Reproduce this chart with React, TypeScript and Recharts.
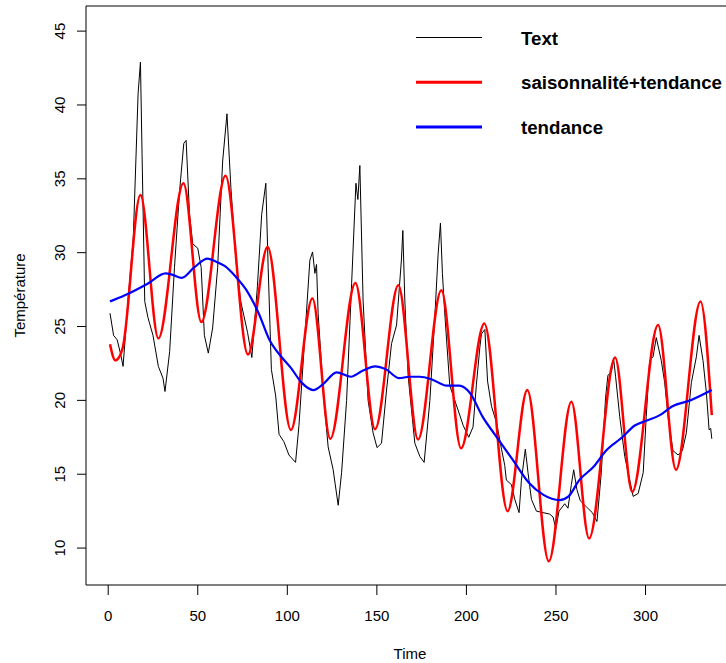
import { LineChart, Line, XAxis, YAxis, ReferenceArea } from 'recharts';

// observed series (black), sampled at its visible turning points
const blackT = [
  1, 3, 5, 7, 8.3, 11, 14, 16.7, 18, 18.9,
  20.4, 22.2, 25, 28, 30.6, 31.7, 34.3, 37, 39.8, 42.2,
  43.5, 45.4, 47.2, 50, 51.9, 53.7, 55.9, 58.3, 61.1, 63.9,
  66.3, 68.5, 71.3, 74, 77.8, 80.2, 83.3, 85.7, 88, 89.3,
  91.1, 93.5, 95.4, 98.1, 100.9, 104.6, 106.5, 109.9, 112.6, 114.1,
  115.4, 116.3, 117.2, 120.1, 122.8, 125.6, 128.4, 130.3, 133.1, 135.9,
  138.3, 139.4, 140.5, 142.3, 145.1, 147.9, 150.1, 152.6, 155.4, 158.2,
  161, 163.7, 164.5, 165.6, 167.5, 171.2, 174, 176.4, 179.6, 182.3,
  184.2, 185.5, 186.6, 187.9, 190.7, 193.5, 196.3, 198.2, 201.3, 203.7,
  205.6, 207.5, 208.4, 210.3, 211.8, 214, 216.8, 219.6, 221.4, 222.3,
  225.1, 227, 229.4, 230.7, 232.9, 234.4, 236.3, 239.1, 242.8, 246.5,
  248.4, 249.9, 251.7, 254.9, 256.7, 258.6, 259.9, 261.7, 263.6, 266.9,
  270.3, 272.9, 275.3, 277.7, 279, 280.9, 282.2, 283.3, 285.6, 288.4,
  291.2, 293.1, 295.9, 298.7, 300.4, 302.3, 304.2, 306, 308.8, 310.7,
  312.6, 315.3, 318.2, 320.6, 322.8, 325.6, 328.4, 329.9, 332.1, 334,
  335.5, 336.4, 337,
];
const blackV = [
  25.9, 24.4, 24.1, 23.1, 22.3, 26.7, 31.0, 40.8, 42.9, 36.7,
  26.7, 25.6, 24.4, 22.3, 21.5, 20.6, 23.3, 29.0, 34.1, 37.4,
  37.6, 32.6, 30.6, 30.3, 29.0, 24.4, 23.2, 24.9, 29.0, 36.2,
  39.4, 34.4, 29.5, 26.7, 24.6, 22.9, 27.7, 32.6, 34.7, 29.0,
  22.1, 20.3, 17.7, 17.2, 16.3, 15.8, 18.3, 24.5, 29.5, 30.05,
  28.6, 29.2, 25.9, 20.5, 16.85, 15.3, 12.9, 15.1, 20.0, 27.9,
  34.7, 33.6, 35.9, 26.8, 20.0, 17.8, 16.8, 17.1, 20.7, 23.85,
  25.1, 29.5, 31.5, 26.8, 21.6, 17.1, 16.2, 15.8, 20.0, 25.5,
  29.9, 32.0, 28.6, 25.9, 21.0, 20.0, 19.0, 18.3, 17.5, 18.2,
  21.1, 23.6, 24.5, 24.8, 21.3, 19.6, 18.5, 16.7, 15.6, 14.6,
  14.3, 13.3, 12.4, 14.6, 16.7, 15.1, 13.3, 12.5, 12.4, 12.3,
  12.1, 11.3, 12.5, 13.0, 12.7, 14.3, 15.3, 13.95, 13.2, 12.8,
  12.4, 11.8, 15.1, 20.2, 21.7, 21.9, 22.8, 21.6, 18.9, 16.2,
  14.6, 13.5, 13.7, 15.1, 18.9, 22.7, 22.95, 24.25, 22.7, 21.2,
  18.9, 16.6, 16.3, 16.6, 17.8, 21.2, 22.95, 24.4, 22.7, 20.5,
  18.0, 18.1, 17.4,
];

// saisonnalité + tendance (red)
const redT = [1, 4, 8, 18, 28, 42, 52, 65.5, 78, 89, 102, 114, 124, 138, 149, 162, 173, 186, 197, 210, 223, 234, 246, 258.6, 268.5, 283, 292.6, 307, 317, 330.7, 337];
const redV = [23.8, 22.7, 23.5, 33.9, 24.2, 34.7, 25.3, 35.2, 23.1, 30.4, 18.0, 26.9, 17.4, 27.95, 18.05, 27.8, 17.35, 27.45, 16.75, 25.2, 12.5, 20.7, 9.1, 19.9, 10.65, 22.9, 13.8, 25.1, 15.3, 26.7, 19.0];

// tendance (blue)
const blueT = [1, 9, 22, 32, 36, 41, 48, 55.5, 60, 65, 71, 77, 84, 90, 97, 102, 108, 114.5, 120, 127.5, 135.5, 142, 149, 155, 162.5, 168, 174, 181, 189, 196, 202, 209, 217, 226, 235, 243, 252, 257, 263, 271, 278, 287, 294, 300, 308, 315, 325, 337];
const blueV = [26.7, 27.1, 27.9, 28.6, 28.5, 28.3, 29.0, 29.6, 29.4, 29.1, 28.4, 27.5, 25.9, 24.1, 22.9, 22.2, 21.2, 20.7, 21.1, 21.9, 21.6, 22.0, 22.3, 22.1, 21.5, 21.6, 21.6, 21.4, 21.0, 21.0, 20.5, 18.9, 17.5, 15.95, 14.4, 13.6, 13.25, 13.5, 14.6, 15.5, 16.6, 17.5, 18.3, 18.6, 19.0, 19.6, 20.0, 20.7];

const xTicks = [0, 50, 100, 150, 200, 250, 300];
const yTicks = [10, 15, 20, 25, 30, 35, 40, 45];

const legendItems = [
  { label: 'Text', color: '#000000', width: 1 },
  { label: 'saisonnalité+tendance', color: '#FF0000', width: 3 },
  { label: 'tendance', color: '#0000FF', width: 3 },
];

const FONT = '"Liberation Sans", Arial, Helvetica, sans-serif';
const X_DOMAIN = [-12.4, 349.4];
const Y_DOMAIN = [7.5, 46.7];

const toPoints = (ts: number[], vs: number[]) => ts.map((t, i) => ({ t, v: vs[i] }));

function YTick({ x, y, payload }: any) {
  return (
    <text
      transform={`translate(${x - 10.5},${y}) rotate(-90)`}
      textAnchor="middle"
      fontSize={15}
      fontFamily={FONT}
      fill="#000"
    >
      {payload.value}
    </text>
  );
}

function YTitle({ viewBox }: any) {
  const cy = viewBox.y + viewBox.height / 2;
  return (
    <text
      transform={`translate(${viewBox.x + 25},${cy}) rotate(-90)`}
      textAnchor="middle"
      fontSize={15}
      fontFamily={FONT}
      fill="#000"
    >
      Température
    </text>
  );
}

export default function App() {
  const black = toPoints(blackT, blackV);
  const red = toPoints(redT, redV);
  const blue = toPoints(blueT, blueV);

  return (
    <div
      style={{
        position: 'absolute',
        left: 0,
        top: 0,
        width: 726,
        height: 663,
        overflow: 'hidden',
        background: '#fff',
        fontFamily: FONT,
      }}
    >
      <LineChart width={760} height={663} margin={{ top: 6, right: 26, bottom: 0, left: 0 }}>
        <XAxis
          dataKey="t"
          type="number"
          domain={X_DOMAIN}
          ticks={xTicks}
          allowDataOverflow
          axisLine={false}
          tickSize={10}
          tickMargin={15}
          height={78}
          tick={{ fontSize: 15, fill: '#000', fontFamily: FONT }}
          tickLine={{ stroke: '#000' }}
          label={{ value: 'Time', position: 'insideBottom', offset: 4, fontSize: 15, fill: '#000', fontFamily: FONT }}
        />
        <YAxis
          type="number"
          domain={Y_DOMAIN}
          ticks={yTicks}
          allowDataOverflow
          axisLine={false}
          tickSize={9}
          width={86}
          tick={<YTick />}
          tickLine={{ stroke: '#000' }}
          label={<YTitle />}
        />
        <Line data={black} dataKey="v" type="linear" stroke="#000" strokeWidth={1} dot={false} isAnimationActive={false} />
        <Line data={red} dataKey="v" type="monotone" stroke="#FF0000" strokeWidth={2.5} dot={false} isAnimationActive={false} />
        <Line data={blue} dataKey="v" type="monotone" stroke="#0000FF" strokeWidth={2.2} dot={false} isAnimationActive={false} />
        <ReferenceArea
          x1={X_DOMAIN[0]}
          x2={X_DOMAIN[1]}
          y1={Y_DOMAIN[0]}
          y2={Y_DOMAIN[1]}
          fill="none"
          stroke="#000"
          strokeWidth={1}
          ifOverflow="visible"
        />
      </LineChart>
      <svg
        width={726}
        height={663}
        style={{ position: 'absolute', left: 0, top: 0, pointerEvents: 'none' }}
      >
        {legendItems.map((item, i) => {
          const y = 37.5 + i * 44.7;
          return (
            <g key={item.label}>
              <line x1={416} x2={482} y1={y} y2={y} stroke={item.color} strokeWidth={item.width} />
              <text x={521} y={y + 7} fontSize={18.7} fontWeight="bold" fontFamily={FONT} fill="#000">
                {item.label}
              </text>
            </g>
          );
        })}
      </svg>
    </div>
  );
}
